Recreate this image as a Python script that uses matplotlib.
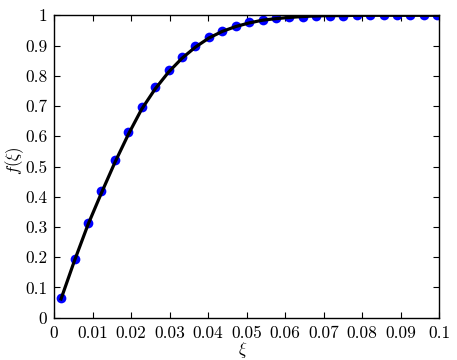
import matplotlib
matplotlib.use("Agg")
import matplotlib.pyplot as plt

plt.rcParams['font.family'] = 'serif'
plt.rcParams['font.serif'] = ['cmr10']
plt.rcParams['mathtext.fontset'] = 'cm'
plt.rcParams['axes.formatter.use_mathtext'] = True

xi = [0.0018, 0.0053, 0.0088, 0.0123, 0.0158, 0.0193, 0.0227, 0.0262, 0.0297,
      0.0332, 0.0367, 0.0402, 0.0437, 0.0472, 0.0507, 0.0542, 0.0576, 0.0611,
      0.0646, 0.0681, 0.0716, 0.0751, 0.0786, 0.0821, 0.0856, 0.0890, 0.0925,
      0.0960, 0.0995]
f_points = [0.064, 0.194, 0.313, 0.419, 0.521, 0.615, 0.696, 0.763, 0.818,
            0.863, 0.899, 0.928, 0.949, 0.965, 0.977, 0.985, 0.990, 0.994,
            0.996, 0.998, 0.999, 0.999, 1.000, 1.000, 1.000, 1.000, 1.000,
            1.000, 1.000]
f_line = [0.062, 0.189, 0.308, 0.413, 0.514, 0.607, 0.689, 0.756, 0.812,
          0.858, 0.895, 0.925, 0.947, 0.963, 0.975, 0.984, 0.989, 0.993,
          0.996, 0.998, 0.999, 0.999, 1.000, 1.000, 1.000, 1.000, 1.000,
          1.000, 1.000]

xticks = [0, 0.01, 0.02, 0.03, 0.04, 0.05, 0.06, 0.07, 0.08, 0.09, 0.1]
xticklabels = ['0', '0.01', '0.02', '0.03', '0.04', '0.05', '0.06', '0.07', '0.08', '0.09', '0.1']
yticks = [0, 0.1, 0.2, 0.3, 0.4, 0.5, 0.6, 0.7, 0.8, 0.9, 1]
yticklabels = ['0', '0.1', '0.2', '0.3', '0.4', '0.5', '0.6', '0.7', '0.8', '0.9', '1']

fig = plt.figure(figsize=(4.57, 3.6), dpi=100)
ax = fig.add_axes([0.1184, 0.1175, 0.8429, 0.84])

ax.plot(xi, f_points, 'o', color=(0, 0, 1), markersize=7, markeredgewidth=0, zorder=2)
ax.plot(xi, f_line, '-', color='black', linewidth=2.3, zorder=3)

ax.set_xlim(0, 0.1)
ax.set_ylim(0, 1)
ax.set_xticks(xticks)
ax.set_xticklabels(xticklabels)
ax.set_yticks(yticks)
ax.set_yticklabels(yticklabels)
ax.tick_params(direction='in', top=True, right=True, labelsize=12.5, length=4, width=0.8)
ax.tick_params(axis='x', pad=6)
ax.tick_params(axis='y', pad=5)
for s in ax.spines.values():
    s.set_linewidth(1.0)

ax.set_xlabel(r'$\xi$', fontsize=12)
ax.xaxis.label.set_va('center')
ax.xaxis.set_label_coords(0.489, -0.108)
ax.set_ylabel(r'$f(\xi)$', fontsize=12)
ax.yaxis.label.set_va('center')
ax.yaxis.set_label_coords(-0.1015, 0.52)

fig.savefig('out.png', dpi=100)
